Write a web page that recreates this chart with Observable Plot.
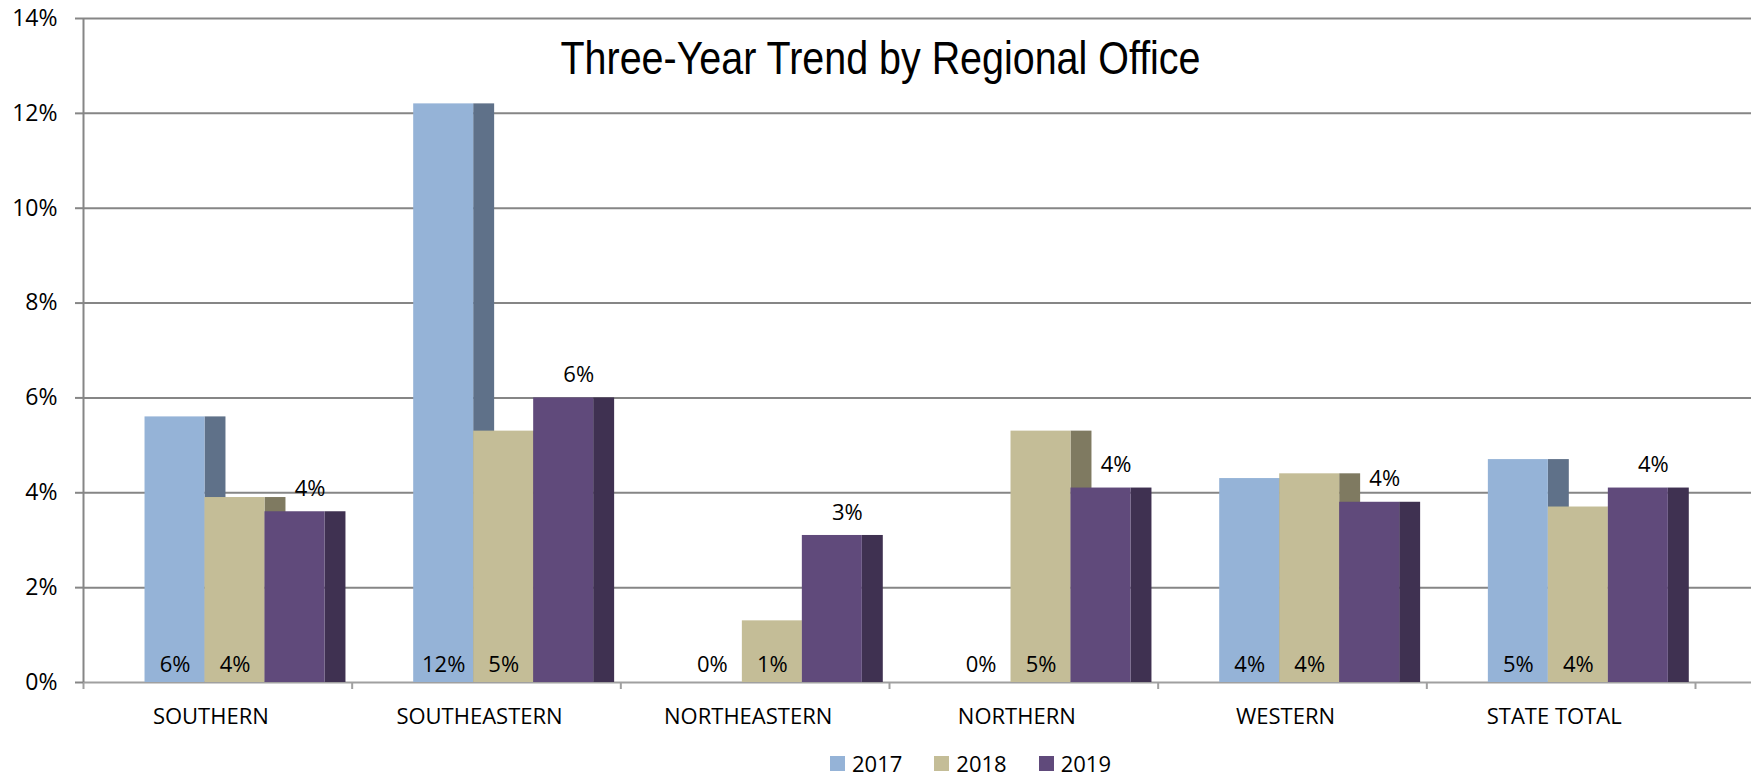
<!DOCTYPE html>
<html>
<head>
<meta charset="utf-8">
<script src="https://cdn.jsdelivr.net/npm/d3@7"></script>
<script src="https://cdn.jsdelivr.net/npm/@observablehq/plot@0.6"></script>
<style>
  html, body { margin: 0; padding: 0; background: #fff; }
  #legend { display: flex; align-items: center; height: 26px; padding-left: 830px;
            font-family: "Open Sans", sans-serif; font-size: 22px; color: #000; }
  #legend .sw { width: 15px; height: 15px; margin-right: 7px; }
  #legend .item { display: flex; align-items: center; margin-right: 32px; }
</style>
</head>
<body>
<div id="chart"></div>
<div id="legend"></div>
<script>
const categories = ["SOUTHERN", "SOUTHEASTERN", "NORTHEASTERN", "NORTHERN", "WESTERN", "STATE TOTAL"];
const years = ["2017", "2018", "2019"];
const v2017 = [5.6, 12.2, 0, 0, 4.3, 4.7];
const v2018 = [3.9, 5.3, 1.3, 5.3, 4.4, 3.7];
const v2019 = [3.6, 6.0, 3.1, 4.1, 3.8, 4.1];
const yTicks = [0, 2, 4, 6, 8, 10, 12, 14];
const title = "Three-Year Trend by Regional Office";

const frontColors = ["#95B3D7", "#C4BD97", "#604A7B"];
const sideColors = ["#5F7189", "#7F7A61", "#3F3151"];

const series = [v2017, v2018, v2019];
const rows = years.flatMap((year, j) =>
  categories.map((cat, i) => ({cat, i, year, j, value: series[j][i]})));

// layout within a category unit (1 unit = one category band)
const G = 0.229, W = 0.2233, S = 0.078;
const fx1 = d => d.i + G + d.j * W;
const fx2 = d => fx1(d) + W;

const sideMarks = years.map((y, j) =>
  Plot.rect(rows.filter(d => d.j === j), {
    x1: fx2, x2: d => fx2(d) + S, y1: 0, y2: "value", fill: sideColors[j]
  }));
const frontMarks = years.map((y, j) =>
  Plot.rect(rows.filter(d => d.j === j), {
    x1: fx1, x2: fx2, y1: 0, y2: "value", fill: frontColors[j]
  }));

const plot = Plot.plot({
  width: 1751,
  height: 750,
  marginLeft: 83,
  marginRight: 0,
  marginTop: 18,
  marginBottom: 68,
  style: {fontFamily: "Open Sans", fontSize: "22px", color: "#000", background: "#fff"},
  x: {domain: [0, categories.length], range: [83, 1695], axis: null, label: null},
  y: {domain: [0, 14], axis: null, label: null},
  marks: [
    Plot.gridY(yTicks.filter(t => t > 0), {stroke: "#868686", strokeOpacity: 1, strokeWidth: 2}),
    Plot.ruleY([0], {stroke: "#a0a0a0", strokeWidth: 2}),
    Plot.axisX({ticks: d3.range(0, categories.length + 1), tickSize: 7, tickFormat: () => "",
                stroke: "#a0a0a0", strokeWidth: 2, label: null}),
    ...sideMarks,
    ...frontMarks,
    Plot.ruleX([0], {stroke: "#868686", strokeWidth: 2}),
    Plot.axisY({ticks: yTicks, tickFormat: d => d + "%", tickSize: 8, tickPadding: 18,
                fontSize: 23, stroke: "#868686", strokeWidth: 2, fill: "#000", label: null}),
    Plot.text(rows.filter(d => d.j < 2), {
      x: d => fx1(d) + W / 2, y: 0, dy: -18,
      text: d => Math.round(d.value) + "%", fontSize: 22, fill: "#000"
    }),
    Plot.text(rows.filter(d => d.j === 2), {
      x: d => fx1(d) + W / 2, y: "value", dx: 15, dy: -23,
      text: d => Math.round(d.value) + "%", fontSize: 22, fill: "#000"
    }),
    Plot.text(categories, {
      x: (d, i) => i + 0.5, y: 0, dy: 34, dx: -7, text: d => d, fontSize: 22, fill: "#000"
    }),
    Plot.text([title], {
      x: categories.length / 2, y: 14, dx: -9, dy: 41, text: d => d,
      fontSize: 46, fontFamily: "Liberation Sans Narrow, Liberation Sans, Arial", fill: "#000",
      className: "charttitle"
    })
  ]
});
document.getElementById("chart").appendChild(plot);
d3.select(plot).selectAll(".charttitle text")
  .attr("textLength", 640).attr("lengthAdjust", "spacingAndGlyphs");

const legend = d3.select("#legend");
years.forEach((y, j) => {
  const item = legend.append("div").attr("class", "item");
  item.append("div").attr("class", "sw").style("background", frontColors[j]);
  item.append("span").text(y);
});
</script>
</body>
</html>
